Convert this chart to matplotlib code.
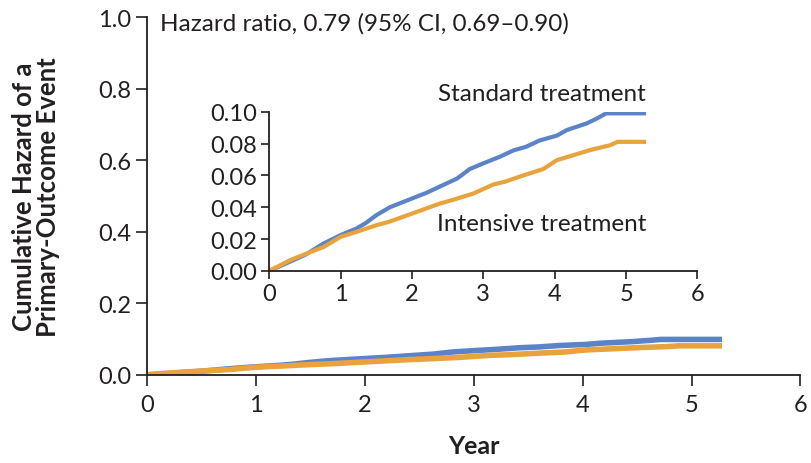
import matplotlib
matplotlib.use("Agg")
import matplotlib.pyplot as plt

plt.rcParams['font.family'] = ['Lato', 'DejaVu Sans']

# cumulative hazard curves, years since randomization
std_years = [0, 0.3, 0.5, 0.76, 1.0, 1.22, 1.35, 1.5, 1.69, 2.0, 2.2, 2.39, 2.63,
             2.81, 3.0, 3.23, 3.42, 3.6, 3.79, 4.03, 4.17, 4.45, 4.6, 4.72, 5.28]
std_hazard = [0, 0.006, 0.010, 0.0172, 0.0225, 0.0266, 0.030, 0.035, 0.040, 0.0455,
              0.049, 0.053, 0.058, 0.064, 0.0676, 0.0717, 0.0757, 0.078, 0.082,
              0.085, 0.0885, 0.0927, 0.096, 0.099, 0.099]

int_years = [0, 0.29, 0.5, 0.76, 1.0, 1.22, 1.5, 1.69, 2.0, 2.39, 2.6, 2.86, 3.14,
             3.3, 3.56, 3.84, 4.03, 4.26, 4.5, 4.78, 4.88, 5.28]
int_hazard = [0, 0.0067, 0.0105, 0.015, 0.0214, 0.0245, 0.0287, 0.031, 0.036,
              0.0423, 0.045, 0.0486, 0.0543, 0.056, 0.060, 0.064, 0.0696, 0.0727,
              0.076, 0.079, 0.0811, 0.0811]

main_yticks = [0.0, 0.2, 0.4, 0.6, 0.8, 1.0]
inset_yticks = [0.00, 0.02, 0.04, 0.06, 0.08, 0.10]
xticks = [0, 1, 2, 3, 4, 5, 6]

BLUE = '#5b84c8'
ORANGE = '#e8a33d'
INK = '#231f20'


def style_axes(ax, ticklen, pad):
    for side in ('top', 'right'):
        ax.spines[side].set_visible(False)
    for side in ('left', 'bottom'):
        ax.spines[side].set_color(INK)
        ax.spines[side].set_linewidth(1.3)
    ax.tick_params(direction='out', length=ticklen, width=1.2, color=INK,
                   labelcolor=INK, labelsize=17, pad=pad)


fig = plt.figure(figsize=(8.11, 4.64), dpi=100)

ax = fig.add_axes([0.181, 0.190, 0.806, 0.771])
ax.plot(std_years, std_hazard, color=BLUE, lw=4, solid_capstyle='butt')
ax.plot(int_years, int_hazard, color=ORANGE, lw=4, solid_capstyle='butt')
ax.set_xlim(0, 6)
ax.set_ylim(0, 1.0)
ax.set_xticks(xticks)
ax.set_yticks(main_yticks)
ax.set_yticklabels([f'{v:.1f}' for v in main_yticks])
style_axes(ax, 8, 3)
ax.tick_params(axis='x', pad=6)
ax.set_xlabel('Year', fontsize=18, fontweight='bold', color=INK)
ax.xaxis.set_label_coords(0.5, -0.165)
ax.set_ylabel('Cumulative Hazard of a\nPrimary-Outcome Event', fontsize=18.5,
              fontweight='bold', color=INK, linespacing=1.0)
ax.yaxis.set_label_coords(-0.133, 0.5)
ax.text(0.12, 0.985, 'Hazard ratio, 0.79 (95% CI, 0.69\u20130.90)', fontsize=17.5,
        color=INK, va='center', ha='left')

inset = fig.add_axes([0.332, 0.414, 0.528, 0.343])
inset.plot(std_years, std_hazard, color=BLUE, lw=3, solid_capstyle='butt')
inset.plot(int_years, int_hazard, color=ORANGE, lw=3, solid_capstyle='butt')
inset.set_xlim(0, 6)
inset.set_ylim(0, 0.10)
inset.set_xticks(xticks)
inset.set_yticks(inset_yticks)
inset.set_yticklabels([f'{v:.2f}' for v in inset_yticks])
inset.patch.set_alpha(0)
style_axes(inset, 6, 3)
inset.text(5.28, 0.1115, 'Standard treatment', fontsize=17.5, color=INK,
           ha='right', va='center')
inset.text(5.28, 0.0295, 'Intensive treatment', fontsize=17.5, color=INK,
           ha='right', va='center')

fig.savefig('out.png', dpi=100)
